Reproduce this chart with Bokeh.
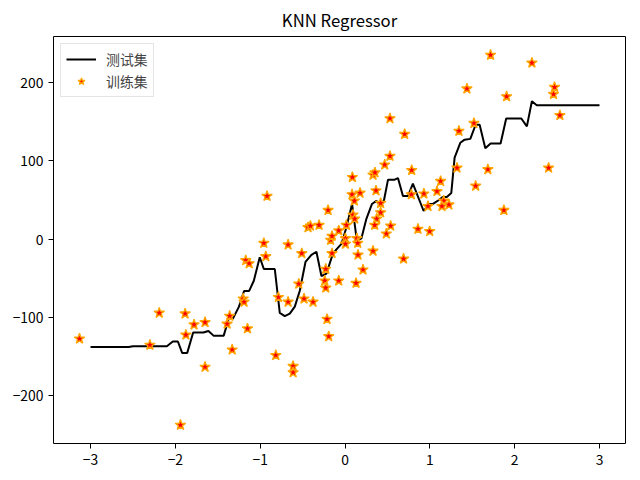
from bokeh.plotting import figure
from bokeh.models import Range1d, FixedTicker
from bokeh.embed import file_html
from bokeh.resources import INLINE

# Training data
train_x = [-3.13, -2.30, -2.19, -1.885, -1.876, -1.78, -1.65, -1.65, -1.94, -1.39,
           -1.36, -1.33, -1.20, -1.19, -1.17, -1.13, -1.15, -0.957, -0.934, -0.919,
           -0.671, -0.51, -0.785, -0.671, -0.545, -0.483, -0.377, -0.816, -0.612, -0.612,
           -0.436, -0.408, -0.306, -0.2, -0.17, -0.153, -0.074, -0.153, -0.227, -0.239,
           -0.227, -0.074, -0.212, -0.192, 0.005, 0.005, 0.016, 0.14, 0.15, 0.153,
           0.13, 0.212, 0.33, 0.69, 0.087, 0.083, 0.11, 0.177, 0.094, 0.114,
           0.33, 0.353, 0.365, 0.42, 0.42, 0.373, 0.35, 0.538, 0.487, 0.468,
           0.53, 0.53, 0.703, 0.786, 0.93, 0.782, 0.978, 0.86, 0.998, 1.084,
           1.127, 1.163, 1.143, 1.225, 1.32, 1.343, 1.437, 1.52, 1.54, 1.684,
           1.716, 1.873, 1.905, 2.203, 2.4, 2.458, 2.47, 2.533]
train_y = [-127, -135, -94, -95, -122, -109, -106, -163, -237, -108,
           -98, -141, -76, -80, -27, -31, -114, -5, -22, 55,
           -7, -18, -74, -80, -57, -76, -80, -148, -162, -170,
           15, 17, 18, 37, -1, 4, 11, -18, -38, -53,
           -62, -53, -102, -124, 1, -6, 18, 1, -5, -20,
           -56, -39, -15, -25, 79, 57, 49, 59, 31, 26,
           82, 85, 62, 46, 34, 26, 18, 17, 7, 95,
           106, 154, 134, 88, 58, 57, 42, 13, 10, 61,
           74, 49, 42, 44, 91, 138, 192, 148, 68, 89,
           235, 37, 182, 225, 91, 185, 194, 158]

# KNN prediction line on the test grid (vertices)
test_x = [-3.0, -2.55, -2.50, -2.10, -2.03, -1.97, -1.92, -1.86, -1.79, -1.67,
          -1.61, -1.55, -1.43, -1.37, -1.32, -1.25, -1.19, -1.13, -1.075, -1.005,
          -0.957, -0.828, -0.769, -0.71, -0.651, -0.592, -0.534, -0.466, -0.396, -0.337,
          -0.278, -0.219, -0.148, -0.101, -0.042, 0.016, 0.083, 0.14, 0.193, 0.252,
          0.318, 0.37, 0.42, 0.46, 0.507, 0.585, 0.624, 0.683, 0.742, 0.80,
          0.927, 0.99, 1.037, 1.107, 1.154, 1.2, 1.253, 1.292, 1.359, 1.41,
          1.477, 1.54, 1.587, 1.654, 1.716, 1.834, 1.90, 2.078, 2.144, 2.203,
          2.26, 3.0]
test_y = [-137.5, -137.5, -136.5, -136.5, -130.5, -130.5, -145, -145, -119, -119,
          -117, -123, -123, -101, -101, -86, -66, -66, -53, -23,
          -38, -38, -94, -98, -95, -86, -66, -29, -20, -16,
          -47, -44, -20, -13, -6, 15, 45, -2, 1, 26,
          45, 49, 42, 50, 76, 76, 78, 55, 55, 71,
          36, 45, 45, 50, 54, 54, 59, 104, 123, 127,
          128, 146, 146, 116, 122, 122, 154, 154, 144, 176,
          171, 171]

x_ticks = [-3, -2, -1, 0, 1, 2, 3]
y_ticks = [-200, -100, 0, 100, 200]

FONT = "Noto Sans CJK SC"

all_x = train_x + test_x
all_y = train_y + test_y
xmin, xmax = min(all_x), max(all_x)
ymin, ymax = min(all_y), max(all_y)
xpad = 0.05 * (xmax - xmin)
ypad = 0.05 * (ymax - ymin)

p = figure(width=640, height=480, output_backend="svg", toolbar_location=None,
           x_range=Range1d(xmin - xpad, xmax + xpad),
           y_range=Range1d(ymin - ypad, ymax + ypad),
           title="KNN Regressor")
p.min_border_left = 53
p.min_border_right = 15
p.min_border_top = 35
p.min_border_bottom = 37
p.background_fill_color = "white"
p.border_fill_color = "white"
p.outline_line_color = "black"
p.outline_line_width = 1
p.xgrid.visible = False
p.ygrid.visible = False

p.title.align = "center"
p.title.text_font = FONT
p.title.text_font_size = "16.7px"
p.title.text_font_style = "normal"
p.title.text_color = "black"

for ax in (p.xaxis[0], p.yaxis[0]):
    ax.axis_line_color = None
    ax.major_tick_in = 0
    ax.major_tick_out = 5
    ax.minor_tick_line_color = None
    ax.major_tick_line_color = "black"
    ax.major_label_text_font = FONT
    ax.major_label_text_font_size = "13.9px"
    ax.major_label_text_color = "black"
    ax.major_label_standoff = 5
p.xaxis.ticker = FixedTicker(ticks=x_ticks)
p.yaxis.ticker = FixedTicker(ticks=y_ticks)
p.xaxis.major_label_overrides = {t: str(t).replace("-", "\u2212") for t in x_ticks}
p.yaxis.major_label_overrides = {t: str(t).replace("-", "\u2212") for t in y_ticks}

p.line(test_x, test_y, line_color="black", line_width=2, legend_label="测试集")
p.scatter(train_x, train_y, marker="star", size=11, fill_color="red",
          line_color="orange", line_width=1.3, legend_label="训练集")

lg = p.legend[0]
lg.location = "top_left"
lg.margin = 7
lg.padding = 5
lg.spacing = 2
lg.glyph_width = 30
lg.glyph_height = 18
lg.label_height = 18
lg.label_standoff = 10
lg.label_text_font = FONT
lg.label_text_font_size = "13.9px"
lg.border_line_color = "#cccccc"
lg.border_line_width = 1
lg.background_fill_alpha = 0.8

open("out.html", "w").write(file_html(p, INLINE))
